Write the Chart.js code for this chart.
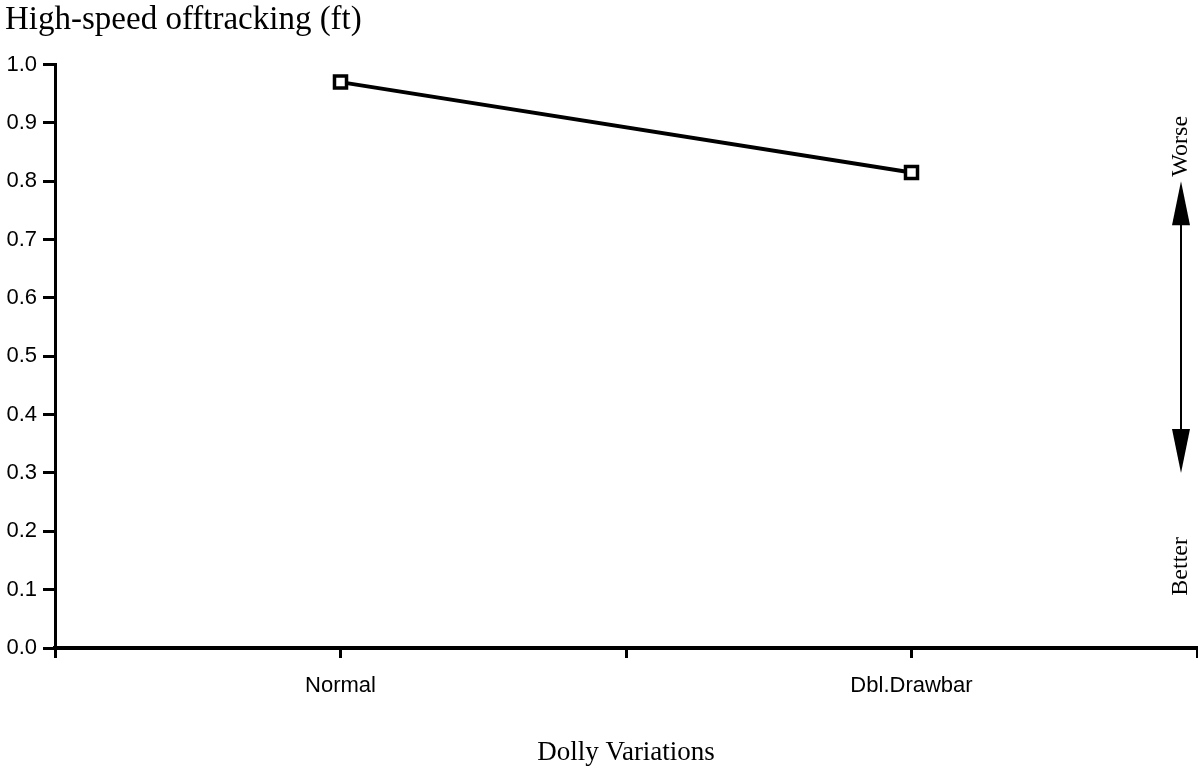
<!DOCTYPE html>
<html>
<head>
<meta charset="utf-8">
<title>High-speed offtracking</title>
<script src="https://cdn.jsdelivr.net/npm/chart.js@4.4.1/dist/chart.umd.min.js"></script>
<style>
  html, body { margin: 0; padding: 0; background: #fff; }
  #wrap { width: 1198px; height: 771px; }
</style>
</head>
<body>
<div id="wrap"><canvas id="chart" width="1198" height="771"></canvas></div>
<script>
// Dolly variations and their high-speed offtracking (ft)
const categories = ["Normal", "Dbl.Drawbar"];
const offtracking = [0.97, 0.815];

// Axis ticks
const yTickValues = [0, 0.1, 0.2, 0.3, 0.4, 0.5, 0.6, 0.7, 0.8, 0.9, 1.0];
const yTickLabels = ["0.0", "0.1", "0.2", "0.3", "0.4", "0.5", "0.6", "0.7", "0.8", "0.9", "1.0"];
const xTickValues = [0, 1, 2, 3, 4];
const xTickLabels = ["", "Normal", "", "Dbl.Drawbar", ""];

const SERIF = "'Liberation Serif', 'Times New Roman', serif";
const SANS = "'Liberation Sans', Arial, Helvetica, sans-serif";

// categories sit on the odd ticks of a 0..4 axis
const points = categories.map((c, i) => ({ x: i * 2 + 1, y: offtracking[i] }));

// Worse / Better double arrow on the right edge
const sideArrow = {
  id: "sideArrow",
  afterDraw(chart) {
    const { ctx, chartArea, scales: { y } } = chart;
    const x = chartArea.right - 16;
    const top = y.getPixelForValue(0.8);
    const bottom = y.getPixelForValue(0.3);
    const headLen = 44, headHalf = 9;

    ctx.save();
    ctx.strokeStyle = "#000";
    ctx.fillStyle = "#000";
    ctx.lineWidth = 2;
    ctx.beginPath();
    ctx.moveTo(x, top + headLen - 2);
    ctx.lineTo(x, bottom - headLen + 2);
    ctx.stroke();

    ctx.beginPath();
    ctx.moveTo(x, top);
    ctx.lineTo(x - headHalf, top + headLen);
    ctx.lineTo(x + headHalf, top + headLen);
    ctx.closePath();
    ctx.fill();

    ctx.beginPath();
    ctx.moveTo(x, bottom);
    ctx.lineTo(x - headHalf, bottom - headLen);
    ctx.lineTo(x + headHalf, bottom - headLen);
    ctx.closePath();
    ctx.fill();

    ctx.font = "24px " + SERIF;
    ctx.textAlign = "center";
    ctx.textBaseline = "middle";
    [["Worse", 0.86], ["Better", 0.14]].forEach(([text, v]) => {
      ctx.save();
      ctx.translate(x, y.getPixelForValue(v));
      ctx.rotate(-Math.PI / 2);
      ctx.fillText(text, 0, 0);
      ctx.restore();
    });
    ctx.restore();
  }
};

Chart.defaults.font.family = SANS;
Chart.defaults.color = "#000";

new Chart(document.getElementById("chart"), {
  type: "line",
  data: {
    datasets: [{
      data: points,
      borderColor: "#000",
      borderWidth: 4,
      pointStyle: "rect",
      pointRadius: 8.5,
      pointBorderWidth: 3.5,
      pointBorderColor: "#000",
      pointBackgroundColor: "#fff",
      tension: 0,
      clip: false
    }]
  },
  options: {
    responsive: false,
    animation: false,
    layout: { autoPadding: false, padding: { left: 5, right: 1, top: 0, bottom: 0 } },
    plugins: {
      legend: { display: false },
      tooltip: { enabled: false },
      title: {
        display: true,
        text: "High-speed offtracking (ft)",
        align: "start",
        color: "#000",
        font: { family: SERIF, size: 33, weight: "normal" },
        padding: { top: 1, bottom: 24 }
      }
    },
    scales: {
      x: {
        type: "linear",
        min: 0,
        max: 4,
        afterBuildTicks: s => { s.ticks = xTickValues.map(v => ({ value: v })); },
        afterFit: s => { s.height = 123; s.paddingLeft = 0; s.paddingRight = 0; },
        ticks: {
          autoSkip: false,
          maxRotation: 0,
          padding: 15,
          color: "#000",
          font: { size: 22 },
          callback: (v, i) => xTickLabels[i]
        },
        grid: { drawOnChartArea: false, tickLength: 10, lineWidth: 3, color: "#000" },
        border: { color: "#000", width: 4 },
        title: {
          display: true,
          text: "Dolly Variations",
          color: "#000",
          font: { family: SERIF, size: 27 },
          padding: { top: 0, bottom: 2 }
        }
      },
      y: {
        min: 0,
        max: 1,
        afterBuildTicks: s => { s.ticks = yTickValues.map(v => ({ value: v })); },
        afterFit: s => { s.width = 50; },
        ticks: {
          padding: 6,
          color: "#000",
          font: { size: 22 },
          callback: (v, i) => yTickLabels[i]
        },
        grid: { drawOnChartArea: false, tickLength: 12, lineWidth: 3, color: "#000" },
        border: { color: "#000", width: 3 }
      }
    }
  },
  plugins: [sideArrow]
});
</script>
</body>
</html>
